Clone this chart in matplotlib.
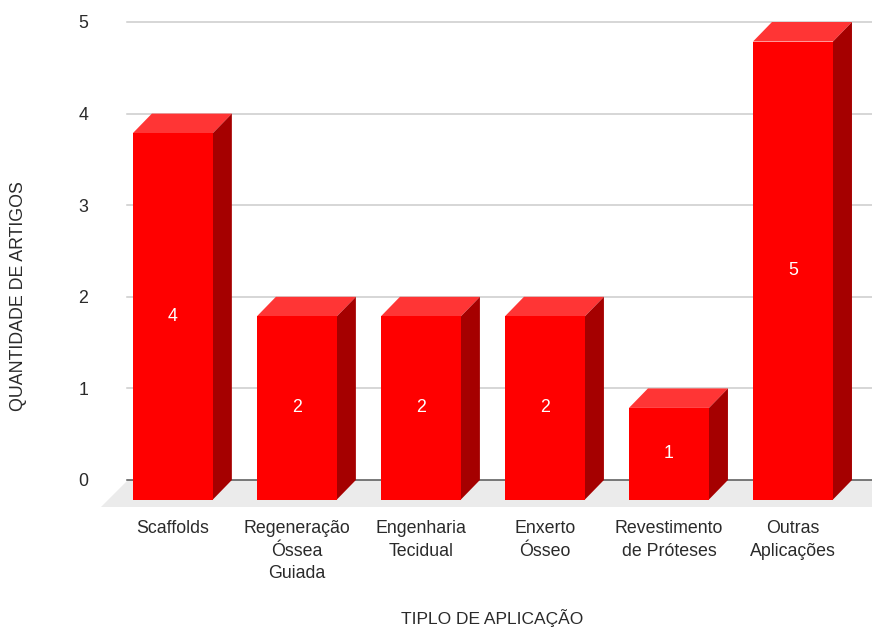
import matplotlib.pyplot as plt
from matplotlib.patches import Polygon

plt.rcParams['font.family'] = ['Liberation Sans', 'DejaVu Sans']

categorias = ["Scaffolds", "Regeneração\nÓssea\nGuiada", "Engenharia\nTecidual",
              "Enxerto\nÓsseo", "Revestimento\nde Próteses", "Outras\nAplicações"]
artigos = [4, 2, 2, 2, 1, 5]
yticks = [0, 1, 2, 3, 4, 5]

frente = '#ff0000'
topo = '#ff3535'
lado = '#a50000'
texto = '#2a2a2a'

W, H = 872, 627
fig = plt.figure(figsize=(W / 100, H / 100), dpi=100)
ax = fig.add_axes([127 / W, 1 - 480 / H, 745 / W, 458 / H])
ax.set_xlim(-0.37, 5.637)
ax.set_ylim(0, 5)

largura = 0.645   # largura da face frontal
dx = 0.153        # profundidade em x
dy = 0.213        # profundidade em y

# piso cinza
piso_dx, piso_dy = 0.22, 0.295
x0, x1 = ax.get_xlim()
ax.add_patch(Polygon([(x0 + 0.01, 0), (x1, 0), (x1, -piso_dy), (x0 + 0.01 - piso_dx, -piso_dy)],
                     closed=True, facecolor='#ebebeb', edgecolor='none', clip_on=False, zorder=1))

# grade
for t in yticks:
    ax.axhline(t, color='#555555' if t == 0 else '#cccccc', lw=1.1, zorder=2, clip_on=False)

xs = list(range(len(artigos)))
ax.bar(xs, artigos, width=largura, bottom=-dy, color=frente, zorder=4, clip_on=False)
for x, v in zip(xs, artigos):
    e, d = x - largura / 2, x + largura / 2
    ax.add_patch(Polygon([(e, v - dy), (d, v - dy), (d + dx, v), (e + dx, v)],
                         closed=True, facecolor=topo, edgecolor='none', zorder=3, clip_on=False))
    ax.add_patch(Polygon([(d, -dy), (d + dx, 0), (d + dx, v), (d, v - dy)],
                         closed=True, facecolor=lado, edgecolor='none', zorder=3, clip_on=False))
    ax.text(x, v / 2 - dy, str(v), color='white', ha='center', va='center',
            fontsize=12.8, zorder=5)

ax.set_yticks(yticks)
ax.set_yticklabels([str(t) for t in yticks], fontsize=12.8, color=texto)
ax.set_xticks(xs)
ax.set_xticklabels(categorias, fontsize=12.8, color=texto, linespacing=1.42)
ax.tick_params(axis='y', length=0, pad=28)
ax.tick_params(axis='x', length=0, pad=29)
for s in ax.spines.values():
    s.set_visible(False)
ax.grid(False)

fig.text(19 / W, 1 - 296 / H, 'QUANTIDADE DE ARTIGOS', rotation=90, ha='center', va='center',
         fontsize=12.8, color=texto)
fig.text(492 / W, 1 - 618 / H, 'TIPLO DE APLICAÇÃO', ha='center', va='center',
         fontsize=12.5, color=texto)

fig.savefig('out.png', dpi=100, facecolor='white')
